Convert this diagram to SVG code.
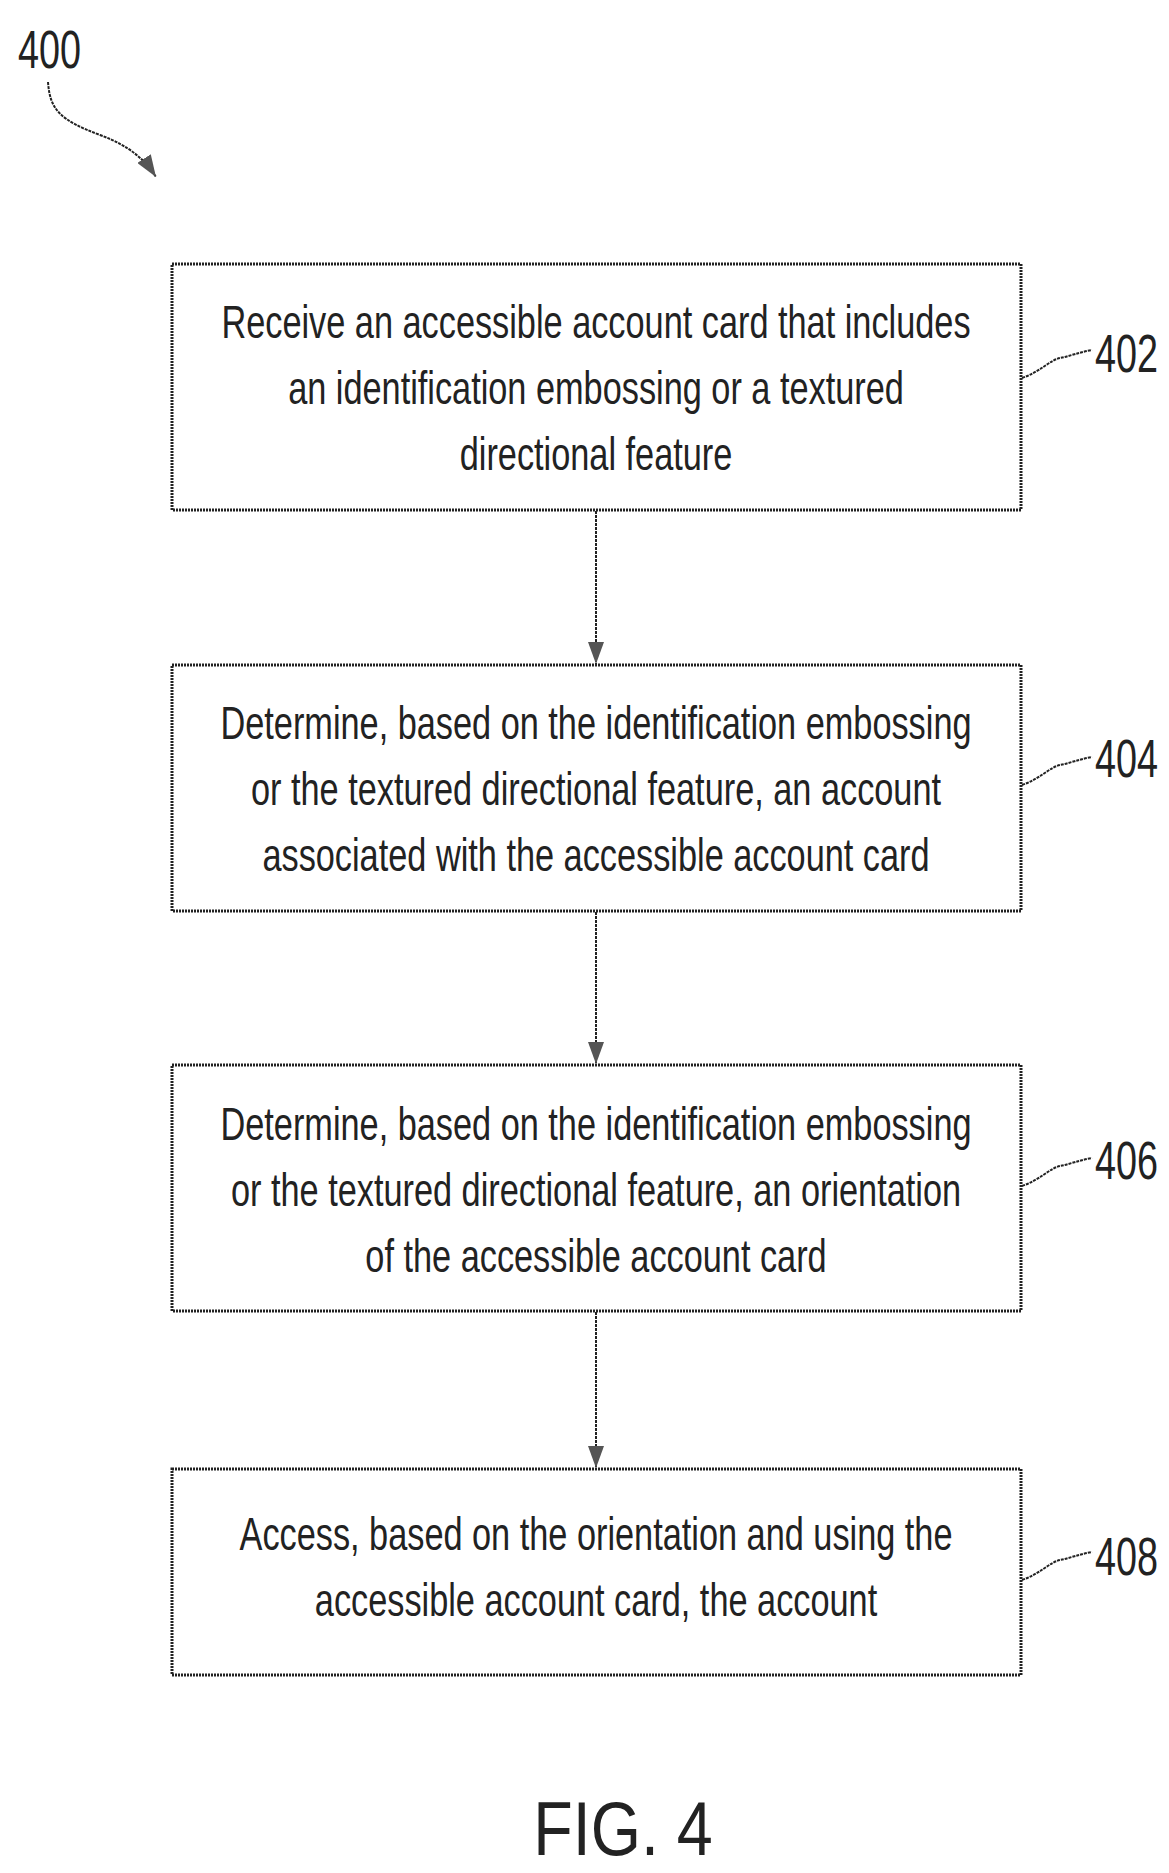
<svg xmlns="http://www.w3.org/2000/svg" width="1169" height="1873" viewBox="0 0 1169 1873">
<style>
.box{fill:#fff;stroke:#222;stroke-width:3;stroke-dasharray:2 1}
.t{font-family:"Liberation Sans",Arial,sans-serif;font-size:47px;fill:#222;text-anchor:middle}
.lab{font-family:"Liberation Sans",Arial,sans-serif;font-size:54px;fill:#222}
.ln{fill:none;stroke:#222;stroke-width:2;stroke-dasharray:3 1}
</style>
<defs>
<marker id="ah" markerWidth="22" markerHeight="16" refX="22" refY="8" orient="auto" markerUnits="userSpaceOnUse" viewBox="0 0 22 16">
<path d="M0,0 L22,8 L0,16 Z" fill="#555"/>
</marker>
</defs>
<g id="ref400">
<text class="lab" transform="translate(18,68) scale(0.7,1)">400</text>
<path class="ln" d="M48,82 C50,110 60,120 100,135 C130,146 145,160 156,177" marker-end="url(#ah)"/>
</g>
<g id="connectors">
<line class="ln" x1="596" y1="511" x2="596" y2="664" marker-end="url(#ah)"/>
<line class="ln" x1="596" y1="912" x2="596" y2="1064" marker-end="url(#ah)"/>
<line class="ln" x1="596" y1="1312" x2="596" y2="1468" marker-end="url(#ah)"/>
<path class="ln" d="M1022,378 C1040,372 1050,360 1060,358 C1070,356 1080,352 1092,350"/>
<path class="ln" d="M1022,785 C1040,779 1050,767 1060,765 C1070,763 1080,759 1092,757"/>
<path class="ln" d="M1022,1186 C1040,1180 1050,1168 1060,1166 C1070,1164 1080,1160 1092,1158"/>
<path class="ln" d="M1022,1580 C1040,1574 1050,1562 1060,1560 C1070,1558 1080,1554 1092,1552"/>
</g>
<g id="n402">
<rect class="box" x="172" y="264" width="849" height="246"/>
<g transform="translate(596,0) scale(0.73,1)">
<text class="t" x="0" y="338">Receive an accessible account card that includes</text>
<text class="t" x="0" y="404">an identification embossing or a textured</text>
<text class="t" x="0" y="470">directional feature</text>
</g>
<text class="lab" transform="translate(1095,372) scale(0.7,1)">402</text>
</g>
<g id="n404">
<rect class="box" x="172" y="665" width="849" height="246"/>
<g transform="translate(596,0) scale(0.73,1)">
<text class="t" x="0" y="739">Determine, based on the identification embossing</text>
<text class="t" x="0" y="805">or the textured directional feature, an account</text>
<text class="t" x="0" y="871">associated with the accessible account card</text>
</g>
<text class="lab" transform="translate(1095,777) scale(0.7,1)">404</text>
</g>
<g id="n406">
<rect class="box" x="172" y="1065" width="849" height="246"/>
<g transform="translate(596,0) scale(0.73,1)">
<text class="t" x="0" y="1140">Determine, based on the identification embossing</text>
<text class="t" x="0" y="1206">or the textured directional feature, an orientation</text>
<text class="t" x="0" y="1272">of the accessible account card</text>
</g>
<text class="lab" transform="translate(1095,1179) scale(0.7,1)">406</text>
</g>
<g id="n408">
<rect class="box" x="172" y="1469" width="849" height="206"/>
<g transform="translate(596,0) scale(0.73,1)">
<text class="t" x="0" y="1550">Access, based on the orientation and using the</text>
<text class="t" x="0" y="1616">accessible account card, the account</text>
</g>
<text class="lab" transform="translate(1095,1575) scale(0.7,1)">408</text>
</g>
<text class="lab" style="font-size:76px" transform="translate(623,1855) scale(0.85,1)" text-anchor="middle">FIG. 4</text>
</svg>
